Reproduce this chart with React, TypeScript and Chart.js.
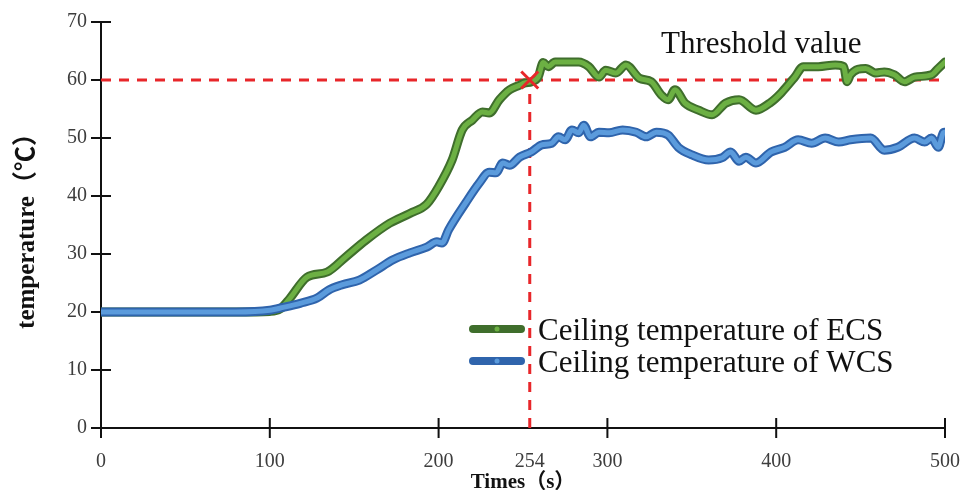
import React, { useEffect, useRef } from 'react';
import { Chart, registerables } from 'chart.js';

Chart.register(...registerables);

// ---- data ----
const ecsTimes = [0, 20, 40, 60, 80, 100, 106, 112, 122, 134, 145, 157, 171, 183, 193, 200, 208, 214, 220, 226, 230, 236, 242, 248, 251, 255, 259, 262, 265, 269, 277, 283, 289, 295, 299, 305, 311, 319, 326, 332, 336, 340, 346, 354, 362, 370, 378, 388, 397, 403, 411, 416, 425, 435, 440, 442, 444, 453, 459, 464, 470, 476, 482, 492, 496, 500];
const ecsTemps = [20, 20, 20, 20, 20, 20.1, 20.5, 22.4, 26, 26.9, 29.5, 32.4, 35.3, 37, 38.6, 41.6, 46.2, 51.4, 53.1, 54.5, 54.3, 56.6, 58.3, 59.1, 59.5, 59.7, 60.5, 63, 62.3, 63.1, 63.1, 63.1, 62.3, 60.5, 61.7, 61.2, 62.6, 60.3, 59.7, 57.4, 56.6, 58.3, 56, 54.8, 54, 56, 56.6, 54.8, 56.2, 57.8, 60.5, 62.3, 62.3, 62.6, 62.3, 59.7, 60.9, 62, 61.2, 61.4, 60.9, 59.7, 60.5, 60.9, 62, 63.1];

const wcsTimes = [0, 20, 40, 60, 80, 100, 108, 118, 128, 135, 143, 153, 163, 173, 183, 193, 199, 202, 206, 216, 224, 230, 234, 238, 242, 248, 255, 261, 267, 271, 275, 279, 283, 286, 290, 295, 301, 309, 317, 323, 329, 336, 342, 350, 360, 368, 373, 378, 382, 388, 397, 405, 413, 421, 429, 437, 444, 456, 464, 472, 482, 488, 492, 496, 499, 500];
const wcsTemps = [20, 20, 20, 20, 20, 20.3, 20.8, 21.5, 22.4, 23.8, 24.7, 25.5, 27.2, 29, 30.2, 31.2, 32.1, 31.9, 34.2, 38.8, 42.2, 44.1, 44, 45.7, 45.3, 46.7, 47.6, 48.8, 49.1, 50.2, 49.7, 51.4, 50.9, 52.2, 50.2, 51, 50.9, 51.4, 51, 50.2, 51, 50.5, 48.4, 47.1, 46.2, 46.6, 47.6, 46, 46.7, 45.7, 47.6, 48.4, 49.7, 49.1, 50, 49.3, 49.7, 50, 47.9, 48.4, 50, 49.3, 50, 48.4, 50.9, 51];

const thresholdValue = 60;
const crossTime = 254;
const xTickLabels = [0, 100, 200, 254, 300, 400, 500];
const xTickMarks = [0, 100, 200, 300, 400, 500];
const yTickValues = [0, 10, 20, 30, 40, 50, 60, 70];
const legendLabels = ['Ceiling temperature of ECS', 'Ceiling temperature of WCS'];
const annotationText = 'Threshold value';
const xTitle = 'Times（s）';
const yTitle = 'temperature（℃）';

const SERIF = "'Liberation Serif', 'Noto Sans CJK SC', serif";
const RED = '#e8262a';
const GREEN_LIGHT = '#6cb043';
const GREEN_DARK = '#3f6e2c';
const BLUE_LIGHT = '#5b9bdc';
const BLUE_DARK = '#2f64ac';
const TICK_COLOR = '#3d3d3d';

const overlayPlugin = {
  id: 'overlay',
  beforeDatasetsDraw(chart: any) {
    const { ctx, scales } = chart;
    const x = scales.x;
    const y = scales.y;
    ctx.save();
    ctx.strokeStyle = '#111';
    ctx.lineWidth = 2;
    ctx.beginPath();
    for (const v of yTickValues) {
      const py = y.getPixelForValue(v);
      ctx.moveTo(x.left - 10, py);
      ctx.lineTo(x.left + 10, py);
    }
    for (const v of xTickMarks) {
      const px = x.getPixelForValue(v);
      ctx.moveTo(px, y.bottom - 10);
      ctx.lineTo(px, y.bottom + 10);
    }
    ctx.stroke();
    ctx.restore();
  },
  afterDraw(chart: any) {
    const { ctx } = chart;
    ctx.save();
    ctx.fillStyle = '#111';
    ctx.font = `31px ${SERIF}`;
    ctx.textBaseline = 'alphabetic';
    ctx.textAlign = 'left';
    ctx.fillText(annotationText, 661, 53);
    const items = [
      { label: legendLabels[0], dark: GREEN_DARK, light: GREEN_LIGHT, y: 329 },
      { label: legendLabels[1], dark: BLUE_DARK, light: BLUE_LIGHT, y: 361 },
    ];
    for (const it of items) {
      ctx.strokeStyle = it.dark;
      ctx.lineWidth = 8;
      ctx.lineCap = 'round';
      ctx.beginPath();
      ctx.moveTo(473, it.y);
      ctx.lineTo(521, it.y);
      ctx.stroke();
      ctx.fillStyle = it.light;
      ctx.beginPath();
      ctx.arc(497, it.y, 2.5, 0, Math.PI * 2);
      ctx.fill();
      ctx.fillStyle = '#111';
      ctx.font = `31px ${SERIF}`;
      ctx.fillText(it.label, 538, it.y + 11);
    }
    ctx.restore();
  },
};

export default function App() {
  const ref = useRef<HTMLCanvasElement>(null);

  useEffect(() => {
    if (!ref.current) return;
    const toPts = (t: number[], v: number[]) => t.map((tt, i) => ({ x: tt, y: v[i] }));
    const ecs = toPts(ecsTimes, ecsTemps);
    const wcs = toPts(wcsTimes, wcsTemps);
    const lineCommon = {
      pointRadius: 0,
      cubicInterpolationMode: 'monotone' as const,
      borderJoinStyle: 'round' as const,
      borderCapStyle: 'round' as const,
      fill: false,
    };
    const chart = new Chart(ref.current, {
      type: 'line',
      data: {
        datasets: [
          {
            data: [{ x: crossTime, y: thresholdValue }],
            showLine: false,
            pointStyle: 'crossRot',
            pointRadius: 12,
            pointBorderColor: RED,
            pointBorderWidth: 3,
            borderColor: RED,
            order: 0,
          },
          { ...lineCommon, data: wcs, borderColor: BLUE_LIGHT, borderWidth: 5, order: 1 },
          { ...lineCommon, data: wcs, borderColor: BLUE_DARK, borderWidth: 9, order: 2 },
          { ...lineCommon, data: ecs, borderColor: GREEN_LIGHT, borderWidth: 5, order: 3 },
          { ...lineCommon, data: ecs, borderColor: GREEN_DARK, borderWidth: 9, order: 4 },
          {
            data: [{ x: 0, y: thresholdValue }, { x: 500, y: thresholdValue }],
            borderColor: RED,
            borderWidth: 3,
            borderDash: [10, 8],
            pointRadius: 0,
            tension: 0,
            order: 5,
          },
          {
            data: [{ x: crossTime, y: 0 }, { x: crossTime, y: thresholdValue }],
            borderColor: RED,
            borderWidth: 3,
            borderDash: [10, 8],
            pointRadius: 0,
            tension: 0,
            order: 6,
          },
        ],
      },
      options: {
        animation: false,
        responsive: true,
        maintainAspectRatio: false,
        layout: { padding: { top: 22, right: 13, left: 0, bottom: 0 } },
        plugins: { legend: { display: false }, tooltip: { enabled: false } },
        scales: {
          x: {
            type: 'linear',
            min: 0,
            max: 500,
            afterBuildTicks: (s: any) => {
              s.ticks = xTickLabels.map((v) => ({ value: v }));
            },
            afterFit: (s: any) => {
              s.height = 62;
              s.paddingLeft = 0;
              s.paddingRight = 0;
            },
            grid: { display: false, drawTicks: false },
            border: { display: true, color: '#111', width: 2 },
            ticks: {
              autoSkip: false,
              maxRotation: 0,
              padding: 22,
              color: TICK_COLOR,
              font: { family: SERIF, size: 20 },
            },
            title: {
              display: true,
              text: xTitle,
              color: '#111',
              font: { family: SERIF, size: 21, weight: 'bold', lineHeight: 1 },
              padding: { top: 0, bottom: -3 },
            },
          },
          y: {
            min: 0,
            max: 70,
            afterBuildTicks: (s: any) => {
              s.ticks = yTickValues.map((v) => ({ value: v }));
            },
            afterFit: (s: any) => {
              s.width = 101;
              s.paddingTop = 0;
              s.paddingBottom = 0;
            },
            grid: { display: false, drawTicks: false },
            border: { display: true, color: '#111', width: 2 },
            ticks: {
              padding: 14,
              color: TICK_COLOR,
              font: { family: SERIF, size: 20 },
            },
            title: {
              display: true,
              text: yTitle,
              color: '#111',
              font: { family: SERIF, size: 25, weight: 'bold', lineHeight: 1.2 },
              padding: { top: 13, bottom: 0 },
            },
          },
        },
      },
      plugins: [overlayPlugin],
    } as any);
    return () => chart.destroy();
  }, []);

  return (
    <div style={{ position: 'fixed', left: 0, top: 0, width: 960, height: 490, background: '#fff' }}>
      <canvas ref={ref} />
    </div>
  );
}
